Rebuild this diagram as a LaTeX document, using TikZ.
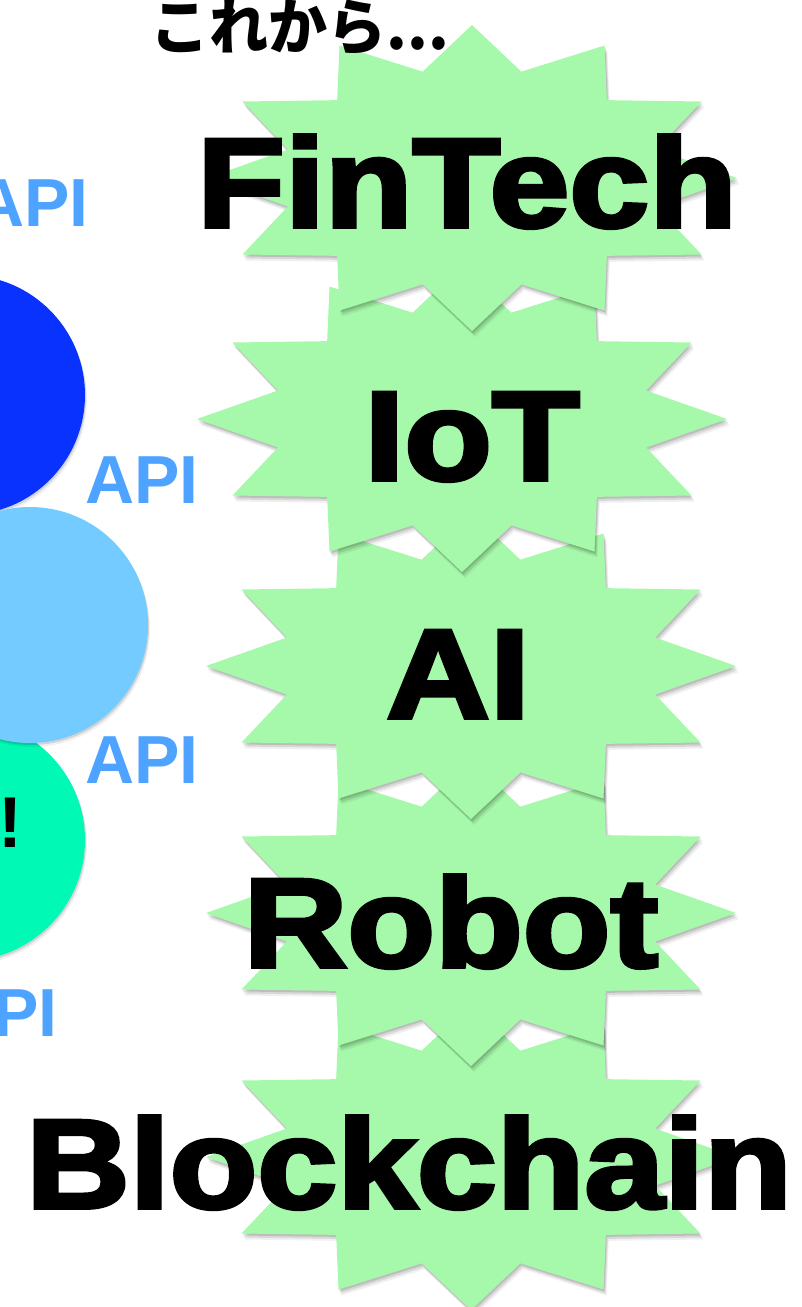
\documentclass[tikz,border=0pt]{standalone}
\usepackage{fontspec}
\setmainfont{Liberation Sans}
\newfontfamily\heavyfont{Liberation Sans}[BoldFeatures={FakeBold=3}]
\newfontfamily\jpfont{Noto Sans CJK JP}
\usetikzlibrary{shapes.geometric,shadows}
\definecolor{burstgreen}{RGB}{166,249,170}
\definecolor{apiblue}{RGB}{77,163,255}
\definecolor{deepblue}{RGB}{10,50,255}
\definecolor{skyblue}{RGB}{115,203,255}
\definecolor{mint}{RGB}{0,249,180}
\newcommand{\wide}[1]{\scalebox{1.13}[1]{#1}}

\begin{document}
\begin{tikzpicture}[x=1pt,y=1pt,
	burst/.style={star, star points=12, star point ratio=1.39, minimum size=306pt, inner sep=0pt,
		fill=burstgreen, xscale=1.732, transform shape,
		drop shadow={shadow xshift=1pt, shadow yshift=-2pt, opacity=0.12, fill=black},
		drop shadow={shadow xshift=2pt, shadow yshift=-4pt, opacity=0.1, fill=black},
		drop shadow={shadow xshift=3pt, shadow yshift=-6pt, opacity=0.06, fill=black}},
	ball/.style={circle, inner sep=0pt, minimum size=#1,
		drop shadow={shadow xshift=1pt, shadow yshift=-2pt, opacity=0.12, fill=black},
		drop shadow={shadow xshift=2pt, shadow yshift=-4pt, opacity=0.06, fill=black}},
	word/.style={anchor=base, inner sep=0pt, font=\heavyfont\bfseries\fontsize{127}{127}\selectfont},
	api/.style={anchor=base, inner sep=0pt, text=apiblue, font=\bfseries\fontsize{68}{68}\selectfont}]
				\useasboundingbox (0,0) rectangle (801,-1307);
				\clip (0,0) rectangle (801,-1307);
				\node[ball=240pt, fill=deepblue] (c1) at (-35,-395) {};
				\node[ball=242pt, fill=mint] (c3) at (-36,-840) {};
				\node[ball=236pt, fill=skyblue] (c2) at (30,-625) {};
				\node[api] (api1) at (32,-226) {API};
				\node[api] (api2) at (142,-503) {API};
				\node[api] (api3) at (142,-783) {API};
				\node[api] (api4) at (1,-1036) {API};
				\node[anchor=base, inner sep=0pt, font=\bfseries\fontsize{72}{72}\selectfont] (bang) at (10,-847) {!};
				\node[burst] (block) at (471,-1157) {};
				\node[burst] (robot) at (471,-913) {};
				\node[burst] (ai) at (471,-666) {};
				\node[burst] (iot) at (462,-419) {};
				\node[burst] (fin) at (472,-178) {};
				\node[anchor=base west, inner sep=0pt, font=\jpfont\bfseries\fontsize{61}{61}\selectfont] (now) at (150,-49) {\scalebox{0.97}[1]{これから...}};
				\node[word] (fint) at (467,-227) {\wide{FinTech}};
				\node[word] (iott) at (472,-480) {\wide{IoT}};
				\node[word] (ait) at (458,-718) {\wide{AI}};
				\node[word] (robt) at (451,-967) {\wide{Robot}};
				\node[word] (blockt) at (409,-1208) {\wide{Blockchain}};
			\end{tikzpicture}
\end{document}
